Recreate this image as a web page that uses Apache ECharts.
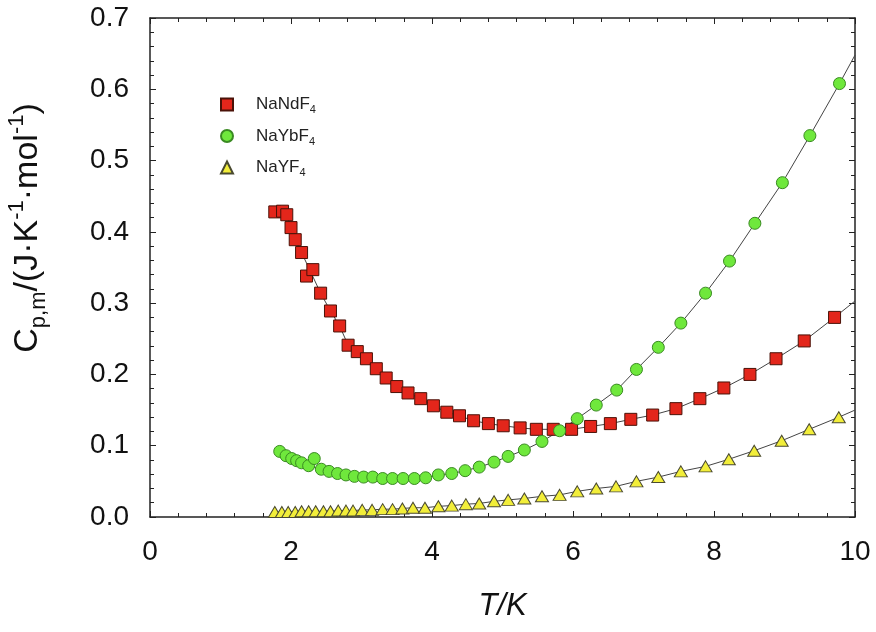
<!DOCTYPE html>
<html>
<head>
<meta charset="utf-8">
<script src="https://cdn.jsdelivr.net/npm/echarts@6/dist/echarts.min.js"></script>
<style>
  html, body { margin: 0; background: #fff; }
  #chart { width: 876px; height: 632px; }
</style>
</head>
<body>
<div id="chart"></div>
<script>
// NaNdF4
var ndT = [1.77, 1.88, 1.94, 2.00, 2.06, 2.15, 2.22, 2.31, 2.42, 2.56, 2.69, 2.81, 2.94, 3.07, 3.21, 3.35, 3.50, 3.66, 3.84, 4.02,
  4.21, 4.39, 4.59, 4.80, 5.01, 5.25, 5.48, 5.72, 5.98, 6.25, 6.53, 6.82, 7.13, 7.46, 7.80, 8.14, 8.51, 8.88, 9.28, 9.71]
var ndCp = [0.428, 0.429, 0.424, 0.406, 0.389, 0.371, 0.338, 0.347, 0.314, 0.289, 0.268, 0.241, 0.232, 0.222, 0.208, 0.195, 0.183, 0.174, 0.166, 0.156,
  0.147, 0.142, 0.135, 0.131, 0.128, 0.125, 0.123, 0.123, 0.123, 0.127, 0.131, 0.137, 0.143, 0.152, 0.166, 0.181, 0.200, 0.222, 0.247, 0.280]
// NaYbF4
var ybT = [1.84, 1.93, 2.01, 2.08, 2.15, 2.25, 2.33, 2.43, 2.54, 2.66, 2.78, 2.90, 3.03, 3.16, 3.30, 3.44, 3.59, 3.75, 3.91, 4.09,
  4.28, 4.47, 4.67, 4.88, 5.08, 5.31, 5.56, 5.81, 6.06, 6.33, 6.62, 6.90, 7.21, 7.53, 7.88, 8.22, 8.58, 8.97, 9.36, 9.78]
var ybCp = [0.092, 0.086, 0.082, 0.079, 0.076, 0.072, 0.082, 0.067, 0.064, 0.061, 0.059, 0.057, 0.056, 0.056, 0.054, 0.054, 0.054, 0.054, 0.055, 0.059,
  0.061, 0.065, 0.070, 0.077, 0.085, 0.094, 0.106, 0.121, 0.138, 0.157, 0.178, 0.207, 0.238, 0.272, 0.314, 0.359, 0.412, 0.469, 0.535, 0.608]
// NaYF4
var yT = [1.77, 1.87, 1.96, 2.06, 2.15, 2.25, 2.35, 2.46, 2.56, 2.67, 2.78, 2.88, 3.01, 3.15, 3.30, 3.44, 3.58, 3.73, 3.90, 4.09,
  4.28, 4.48, 4.67, 4.88, 5.08, 5.31, 5.56, 5.81, 6.06, 6.33, 6.61, 6.90, 7.21, 7.53, 7.88, 8.21, 8.57, 8.96, 9.35, 9.77]
var yCp = [0.007, 0.007, 0.007, 0.007, 0.008, 0.008, 0.008, 0.008, 0.008, 0.009, 0.009, 0.009, 0.010, 0.010, 0.011, 0.011, 0.012, 0.013, 0.013, 0.015,
  0.016, 0.018, 0.019, 0.022, 0.024, 0.026, 0.029, 0.031, 0.036, 0.040, 0.043, 0.050, 0.056, 0.064, 0.071, 0.081, 0.093, 0.107, 0.123, 0.140]

// fitted curves: points left off the curve, and where the curve meets T = 10 K
var ndOffFit = [6, 7]
var ybOffFit = [6]
var yOffFit = []
var fitEndT = 10
var ndFitEnd = 0.303
var ybFitEnd = 0.648
var yFitEnd = 0.150

var FONT = 'Liberation Sans, Arial, sans-serif'
var AXIS = '#222'

function pts(t, c) {
  return t.map(function (x, i) { return [x, c[i]] })
}
function fit(t, c, skip, end) {
  var d = pts(t, c).filter(function (p, i) { return skip.indexOf(i) < 0 })
  d.push([fitEndT, end])
  return d
}
function fitSeries(data) {
  return {
    type: 'line', data: data, showSymbol: false, silent: true, z: 1,
    lineStyle: { color: '#444', width: 1 }
  }
}

function xAx(pos, labels) {
  return {
    type: 'value', min: 0, max: 10, interval: 2, position: pos,
    axisLine: { show: true, onZero: false, lineStyle: { color: AXIS, width: 1.5 } },
    axisTick: { show: true, inside: true, length: 6, lineStyle: { color: AXIS } },
    minorTick: { show: true, splitNumber: 5, length: 4, lineStyle: { color: AXIS } },
    splitLine: { show: false },
    axisLabel: { show: labels, fontSize: 28, color: '#111', margin: 21, fontFamily: FONT },
    name: labels ? 'T/K' : '',
    nameLocation: 'middle',
    nameGap: 74,
    nameTextStyle: { fontStyle: 'italic', fontSize: 31, color: '#111', fontFamily: FONT }
  }
}
function yAx(pos, labels) {
  return {
    type: 'value', min: 0, max: 0.7, interval: 0.1, position: pos,
    axisLine: { show: true, onZero: false, lineStyle: { color: AXIS, width: 1.5 } },
    axisTick: { show: true, inside: true, length: 6, lineStyle: { color: AXIS } },
    minorTick: { show: true, splitNumber: 5, length: 4, lineStyle: { color: AXIS } },
    splitLine: { show: false },
    axisLabel: {
      show: labels, fontSize: 28, color: '#111', margin: 21, fontFamily: FONT,
      formatter: function (v) { return v.toFixed(1) }
    }
  }
}

var chart = echarts.init(document.getElementById('chart'))
var option = {
  animation: false,
  backgroundColor: '#fff',
  grid: { left: 150, right: 21, top: 18, bottom: 115 },
  xAxis: [xAx('bottom', true), xAx('top', false)],
  yAxis: [yAx('left', true), yAx('right', false)],
  legend: {
    orient: 'vertical', left: 215, top: 91, itemWidth: 12, itemHeight: 12, itemGap: 12,
    data: [
      { name: 'NaNdF4', icon: 'rect' },
      { name: 'NaYbF4', icon: 'circle' },
      { name: 'NaYF4', icon: 'triangle' }
    ],
    formatter: function (name) { return '{m|' + name.slice(0, -1) + '}{s|4}' },
    textStyle: {
      color: '#222', fontFamily: FONT, padding: [0, 0, 0, 18],
      rich: {
        m: { fontSize: 17, lineHeight: 22, verticalAlign: 'middle', fontFamily: FONT, color: '#222' },
        s: { fontSize: 11, lineHeight: 11, verticalAlign: 'bottom', fontFamily: FONT, color: '#222' }
      }
    }
  },
  graphic: [{
    type: 'text', x: 28, y: 228, rotation: Math.PI / 2,
    style: {
      text: '{m|C}{s|p,m}{m|/(J·K}{u|-1}{m|·mol}{u|-1}{m|)}',
      align: 'center', verticalAlign: 'middle', fill: '#111',
      rich: {
        m: { fontSize: 34, lineHeight: 44, verticalAlign: 'middle', fontFamily: FONT, fill: '#111' },
        s: { fontSize: 22, lineHeight: 20, verticalAlign: 'bottom', fontFamily: FONT, fill: '#111' },
        u: { fontSize: 22, lineHeight: 22, verticalAlign: 'top', fontFamily: FONT, fill: '#111' }
      }
    }
  }],
  series: [
    fitSeries(fit(ndT, ndCp, ndOffFit, ndFitEnd)),
    fitSeries(fit(ybT, ybCp, ybOffFit, ybFitEnd)),
    fitSeries(fit(yT, yCp, yOffFit, yFitEnd)),
    {
      name: 'NaNdF4', type: 'scatter', symbol: 'rect', symbolSize: 12, z: 3,
      itemStyle: { color: '#e3261b', borderColor: '#4a1208', borderWidth: 1, opacity: 1 },
      data: pts(ndT, ndCp)
    },
    {
      name: 'NaYbF4', type: 'scatter', symbol: 'circle', symbolSize: 12, z: 3,
      itemStyle: { color: '#6fe83c', borderColor: '#3a8a22', borderWidth: 1, opacity: 1 },
      data: pts(ybT, ybCp)
    },
    {
      name: 'NaYF4', type: 'scatter', symbol: 'triangle', symbolSize: [13, 11], z: 3,
      itemStyle: { color: '#f2ee3a', borderColor: '#4a4a30', borderWidth: 1, opacity: 1 },
      data: pts(yT, yCp)
    }
  ]
}
chart.setOption(option)
</script>
</body>
</html>
